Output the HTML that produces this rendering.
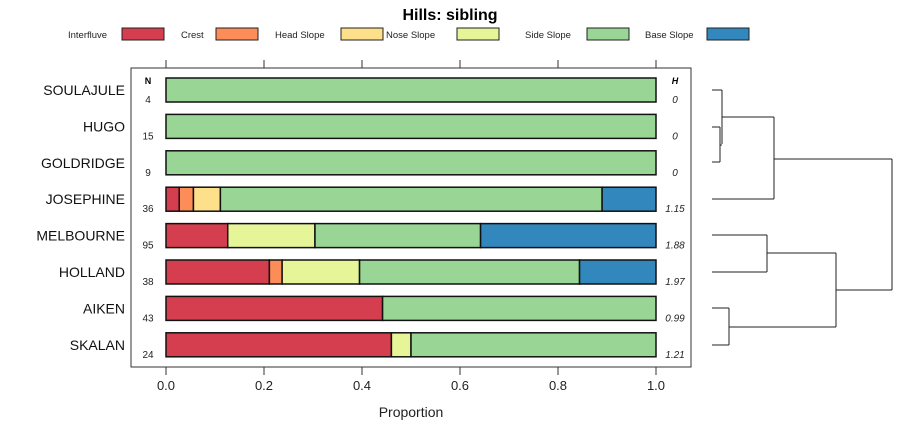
<!DOCTYPE html>
<html><head><meta charset="utf-8">
<style>
body{margin:0;background:#fff;width:900px;height:440px;overflow:hidden;font-family:"Liberation Sans",sans-serif;}
svg text{font-family:"Liberation Sans",sans-serif;}
</style></head>
<body>
<svg id="chart" width="900" height="440" viewBox="0 0 900 440" xmlns="http://www.w3.org/2000/svg"></svg>
<script>
const categories = ["SOULAJULE","HUGO","GOLDRIDGE","JOSEPHINE","MELBOURNE","HOLLAND","AIKEN","SKALAN"];
const nValues = ["4","15","9","36","95","38","43","24"];
const hValues = ["0","0","0","1.15","1.88","1.97","0.99","1.21"];
const seriesNames = ["Interfluve","Crest","Head Slope","Nose Slope","Side Slope","Base Slope"];
const seriesColors = ["#d53e4f","#fc8d59","#fee08b","#e6f598","#99d594","#3288bd"];
// proportions per row: [Interfluve, Crest, Head, Nose, Side, Base]
const interfluve = [0,0,0,0.027,0.126,0.211,0.442,0.460];
const crest      = [0,0,0,0.029,0,0.026,0,0];
const headSlope  = [0,0,0,0.055,0,0,0,0];
const noseSlope  = [0,0,0,0,0.178,0.158,0,0.040];
const sideSlope  = [1,1,1,0.779,0.338,0.449,0.558,0.500];
const baseSlope  = [0,0,0,0.110,0.358,0.156,0,0];
const xTicks = [0,0.2,0.4,0.6,0.8,1.0];
const xTickLabels = ["0.0","0.2","0.4","0.6","0.8","1.0"];

const NS="http://www.w3.org/2000/svg";
const svg=document.getElementById('chart');
function mk(tag,attrs,parent){const e=document.createElementNS(NS,tag);for(const k in attrs)e.setAttribute(k,attrs[k]);(parent||svg).appendChild(e);return e;}
const x0=166,x1=656;
const xs=v=>x0+(x1-x0)*v;
const rowTop=90,rowStep=36.4;
const ys=i=>rowTop+rowStep*i;

const t=mk('text',{x:450,y:20,'text-anchor':'middle','font-size':16,'font-weight':'bold'});t.textContent="Hills: sibling";



// legend layout
const legTextX=[68,181,275,386,525,645];
const legBoxX=[122,216,341,457,587,707];
const legG=mk('g',{});


seriesNames.forEach((n,i)=>{
  const g=mk('g',{},legG);
  
  
  const tx=mk('text',{x:legTextX[i],y:38,'font-size':9.5,fill:'#222'},g);tx.textContent=n;
  mk('rect',{x:legBoxX[i],y:28,width:42,height:12,fill:seriesColors[i],stroke:'#222','stroke-width':1},g);
});

const panel=mk('rect',{x:131,y:68,width:560,height:299,fill:'none',stroke:'#333','stroke-width':1});



xTicks.forEach((v,i)=>{
  const x=xs(v);
  mk('line',{x1:x,x2:x,y1:60,y2:68,stroke:'#333'});
  mk('line',{x1:x,x2:x,y1:367,y2:375,stroke:'#333'});
  const l=mk('text',{x:x,y:390,'text-anchor':'middle','font-size':13,fill:'#222'});l.textContent=xTickLabels[i];
  
  
});
const xt=mk('text',{x:411,y:417,'text-anchor':'middle','font-size':14,fill:'#222'});xt.textContent="Proportion";



const nh=mk('text',{x:148,y:84,'text-anchor':'middle','font-size':9,'font-weight':'bold'});nh.textContent="N";


const hh=mk('text',{x:675,y:84,'text-anchor':'middle','font-size':9,'font-weight':'bold','font-style':'italic'});hh.textContent="H";



const series=[interfluve,crest,headSlope,noseSlope,sideSlope,baseSlope];
categories.forEach((c,i)=>{
  const y=ys(i);
  const lab=mk('text',{x:125,y:y+5,'text-anchor':'end','font-size':14,fill:'#111'});lab.textContent=c;
  
  
  const n=mk('text',{x:148,y:y+13,'text-anchor':'middle','font-size':10,fill:'#222'});n.textContent=nValues[i];
  
  
  const h=mk('text',{x:675,y:y+13,'text-anchor':'middle','font-size':10,'font-style':'italic',fill:'#222'});h.textContent=hValues[i];
  
  
  let acc=0;
  series.forEach((s,j)=>{
    const v=s[i];if(v<=0)return;
    const r=mk('rect',{x:xs(acc),y:y-12,width:xs(acc+v)-xs(acc),height:24,fill:seriesColors[j],stroke:'#111','stroke-width':1.5});
    
    
    acc+=v;
  });
});

const dend=[[712,90,722],[712,127,720],[712,162,720],[720,145,722],[712,199,774],[722,117,774],[712,235,767],[712,272,767],[712,308,729],[712,345,729],[767,253,836],[729,327,836],[774,159,892],[836,290,892]];
const vert=[[720,127,162],[722,90,144],[774,117,199],[767,235,272],[729,308,345],[836,253,327],[892,159,290]];
const dg=mk('g',{stroke:'#222','stroke-width':1,fill:'none'});


dend.forEach(d=>mk('line',{x1:d[0],y1:d[1],x2:d[2],y2:d[1]},dg));
vert.forEach(d=>mk('line',{x1:d[0],y1:d[1],x2:d[0],y2:d[2]},dg));
</script>
</body></html>
